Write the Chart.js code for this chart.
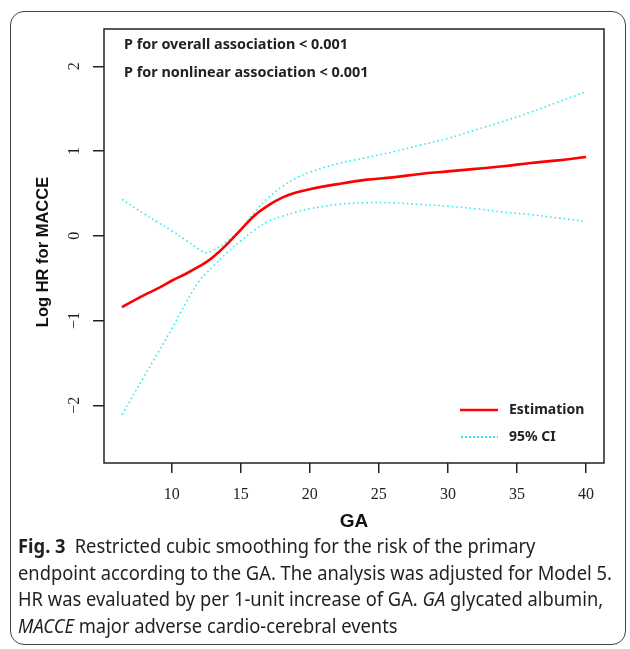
<!DOCTYPE html>
<html>
<head>
<meta charset="utf-8">
<script src="https://cdn.jsdelivr.net/npm/chart.js@4"></script>
<style>
    body { margin: 0; width: 630px; height: 649px; background: #fff; position: relative; overflow: hidden; }
    #frameBox {
        position: absolute; left: 10px; top: 11px; width: 616px; height: 634px;
        border: 1px solid #444; border-radius: 14px; box-sizing: border-box;
    }
    #chartCanvas { position: absolute; left: 0; top: 0; }
    #caption {
        position: absolute; left: 18px; top: 533px;
        font-family: "Noto Sans", sans-serif; font-size: 20px; color: #231f20;
        transform-origin: 0 0;
    }
    #caption div { white-space: nowrap; line-height: 26.5px; }
</style>
</head>
<body>
<div id="frameBox"></div>
<canvas id="chartCanvas" width="630" height="545"></canvas>
<div id="caption">
    <div><b>Fig. 3</b>&ensp;Restricted cubic smoothing for the risk of the primary</div>
    <div>endpoint according to the GA. The analysis was adjusted for Model 5.</div>
    <div>HR was evaluated by per 1-unit increase of GA. <i>GA</i> glycated albumin,</div>
    <div><i>MACCE</i> major adverse cardio-cerebral events</div>
</div>
<script>
const gaX       = [6.4, 8, 9, 10, 11, 12, 12.5, 13, 14, 15, 16, 17, 18, 19, 20, 22, 24, 26, 28, 30, 32, 34, 36, 38, 40];
const estimate  = [-0.84, -0.70, -0.62, -0.53, -0.45, -0.36, -0.31, -0.25, -0.10, 0.07, 0.24, 0.36, 0.45, 0.51, 0.55, 0.61, 0.66, 0.69, 0.73, 0.76, 0.79, 0.82, 0.86, 0.89, 0.93];
const upperCI   = [0.43, 0.26, 0.16, 0.06, -0.05, -0.16, -0.20, -0.17, -0.07, 0.08, 0.28, 0.45, 0.58, 0.68, 0.75, 0.85, 0.92, 0.99, 1.07, 1.15, 1.25, 1.35, 1.46, 1.58, 1.70];
const lowerCI   = [-2.11, -1.66, -1.38, -1.10, -0.80, -0.53, -0.44, -0.36, -0.20, -0.06, 0.07, 0.17, 0.23, 0.28, 0.32, 0.37, 0.39, 0.39, 0.37, 0.35, 0.32, 0.28, 0.25, 0.21, 0.17];

const xTicks = [10, 15, 20, 25, 30, 35, 40];
const yTicks = [-2, -1, 0, 1, 2];
const yTickLabels = ['\u22122', '\u22121', '0', '1', '2'];
const yTitle = 'Log HR for MACCE';
const pTexts = ['P for overall association < 0.001', 'P for nonlinear association < 0.001'];
const legendLabels = ['Estimation', '95% CI'];

const RED = '#ff0000';
const CYAN = '#2ee6ee';

const toPoints = arr => arr.map((v, i) => ({ x: gaX[i], y: v }));

// box, rotated y labels + title, p-values and legend drawn on top
const extras = {
    id: 'extras',
    afterDraw(chart) {
        const { ctx, chartArea: a, scales: { y } } = chart;
        ctx.save();
        ctx.strokeStyle = '#222';
        ctx.lineWidth = 1.5;
        ctx.strokeRect(a.left, a.top, a.right - a.left, a.bottom - a.top);

        ctx.fillStyle = '#222';
        ctx.font = '16px "Liberation Serif"';
        ctx.textAlign = 'center';
        ctx.textBaseline = 'middle';
        yTicks.forEach((v, i) => {
            ctx.save();
            ctx.translate(a.left - 29, y.getPixelForValue(v));
            ctx.rotate(-Math.PI / 2);
            ctx.fillText(yTickLabels[i], 0, 0);
            ctx.restore();
        });

        ctx.save();
        ctx.fillStyle = '#111';
        ctx.font = 'bold 16.5px "Liberation Sans"';
        ctx.translate(43, 252);
        ctx.rotate(-Math.PI / 2);
        ctx.fillText(yTitle, 0, 0);
        ctx.restore();

        ctx.textAlign = 'left';
        ctx.font = 'bold 14.4px "Noto Sans"';
        ctx.fillText(pTexts[0], a.left + 20, 45);
        ctx.fillText(pTexts[1], a.left + 20, 73);

        // legend
        const lx = 460, ly = [410, 437];
        ctx.strokeStyle = RED;
        ctx.lineWidth = 2.5;
        ctx.beginPath(); ctx.moveTo(lx, ly[0]); ctx.lineTo(lx + 38, ly[0]); ctx.stroke();
        ctx.strokeStyle = CYAN;
        ctx.lineWidth = 2;
        ctx.setLineDash([2, 2]);
        ctx.beginPath(); ctx.moveTo(lx + 1, ly[1]); ctx.lineTo(lx + 38, ly[1]); ctx.stroke();
        ctx.setLineDash([]);
        ctx.fillStyle = '#222';
        ctx.font = 'bold 14px "Noto Sans"';
        ctx.fillText(legendLabels[0], lx + 49, ly[0]);
        ctx.fillText(legendLabels[1], lx + 49, ly[1]);
        ctx.restore();
    }
};

const ciStyle = {
    borderColor: CYAN, borderWidth: 1.6, borderDash: [1.5, 3],
    pointRadius: 0, tension: 0.4, fill: false
};

new Chart(document.getElementById('chartCanvas'), {
    type: 'line',
    data: {
        datasets: [
            { label: 'Estimation', data: toPoints(estimate), borderColor: RED, borderWidth: 2.6, pointRadius: 0, tension: 0.4 },
            Object.assign({ label: '95% CI upper', data: toPoints(upperCI) }, ciStyle),
            Object.assign({ label: '95% CI lower', data: toPoints(lowerCI) }, ciStyle)
        ]
    },
    options: {
        responsive: false,
        animation: false,
        layout: { padding: { left: 0, top: 29, right: 26, bottom: 0 } },
        plugins: { legend: { display: false }, tooltip: { enabled: false } },
        scales: {
            x: {
                type: 'linear', min: 5.1, max: 41.3,
                afterBuildTicks: s => { s.ticks = xTicks.map(v => ({ value: v })); },
                afterFit: s => { s.height = 82; },
                border: { display: false },
                grid: { drawOnChartArea: false, drawTicks: true, tickLength: 10, color: '#222', lineWidth: 1.5 },
                ticks: { color: '#222', padding: 12, font: { family: '"Liberation Serif"', size: 16 }, maxRotation: 0 },
                title: { display: true, text: 'GA', color: '#111', padding: { top: 0, bottom: 12 }, font: { family: '"Liberation Sans"', size: 19, weight: 'bold' } }
            },
            y: {
                type: 'linear', min: -2.68, max: 2.44,
                afterBuildTicks: s => { s.ticks = yTicks.map(v => ({ value: v })); },
                afterFit: s => { s.width = 104; },
                border: { display: false },
                grid: { drawOnChartArea: false, drawTicks: true, tickLength: 11, color: '#222', lineWidth: 1.5 },
                ticks: { display: false },
                title: { display: false }
            }
        }
    },
    plugins: [extras]
});

// squeeze caption lines to the figure width
const cap = document.getElementById('caption');
const widest = Math.max(...Array.from(cap.children).map(d => d.scrollWidth));
cap.style.transform = 'scaleX(' + (594 / widest) + ')';
</script>
</body>
</html>
